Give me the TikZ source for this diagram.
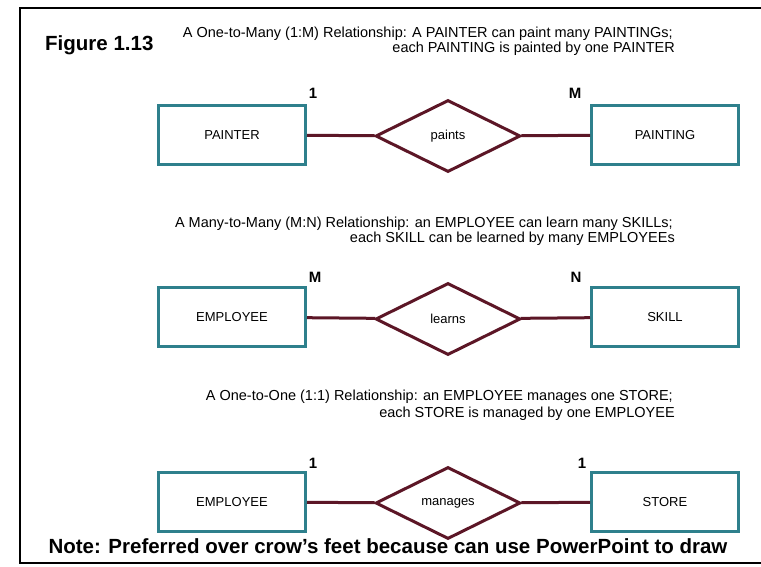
\documentclass[tikz,border=0pt]{standalone}
\usepackage{fontspec}
\setmainfont{Liberation Sans}
\usetikzlibrary{shapes.geometric}
\definecolor{entteal}{RGB}{46,128,140}
\definecolor{relmaroon}{RGB}{92,22,38}

\begin{document}
\begin{tikzpicture}[x=1pt,y=-1pt,
  entity/.style={draw=entteal, line width=3pt, minimum width=147pt, minimum height=59pt,
    inner sep=0pt, font=\fontsize{13}{15}\selectfont},
  relation/.style={diamond, draw=relmaroon, line width=3pt, minimum width=145pt,
    minimum height=72pt, inner sep=0pt, font=\fontsize{13}{15}\selectfont},
  link/.style={draw=relmaroon, line width=3pt},
  card/.style={inner sep=0pt, font=\fontsize{15}{17}\selectfont\bfseries},
  captext/.style={anchor=base east, inner sep=0pt, font=\fontsize{14.5}{17}\selectfont},
  heading/.style={inner sep=0pt, font=\fontsize{20.5}{24}\selectfont\bfseries}]

\useasboundingbox (0,0) rectangle (761,566);
\fill[white] (0,0) rectangle (761,566);
% open frame, running off the right edge
\draw[line width=2.5pt] (768,8) -- (20,8) -- (20,563) -- (768,563);

\node[heading, anchor=west] (fig) at (45,45) {Figure 1.13};

% one-to-many
\node[captext] (c1a) at (673,37) {A One-to-Many (1:M) Relationship: A PAINTER can paint many PAINTINGs;};
\node[captext] (c1b) at (675,52) {each PAINTING is painted by one PAINTER};
\node[entity] (painter) at (232,135) {PAINTER};
\node[relation] (paints) at (448,136) {paints};
\node[entity] (painting) at (665,135) {PAINTING};
\draw[link] (painter) -- (paints);
\draw[link] (paints) -- (painting);
\node[card] (k1a) at (313,93) {1};
\node[card] (k1b) at (575,93) {M};

% many-to-many
\node[captext] (c2a) at (673,227) {A Many-to-Many (M:N) Relationship: an EMPLOYEE can learn many SKILLs;};
\node[captext] (c2b) at (675,242) {each SKILL can be learned by many EMPLOYEEs};
\node[entity] (emp2) at (232,317) {EMPLOYEE};
\node[relation] (learns) at (448,319) {learns};
\node[entity] (skill) at (665,317) {SKILL};
\draw[link] (emp2) -- (learns);
\draw[link] (learns) -- (skill);
\node[card] (k2a) at (315,277) {M};
\node[card] (k2b) at (576,277) {N};

% one-to-one
\node[captext] (c3a) at (673,400) {A One-to-One (1:1) Relationship: an EMPLOYEE manages one STORE;};
\node[captext] (c3b) at (675,417) {each STORE is managed by one EMPLOYEE};
\node[entity] (emp3) at (232,502) {EMPLOYEE};
\node[relation] (manages) at (448,503) {manages};
\node[entity] (store) at (665,502) {STORE};
\draw[link] (emp3) -- (manages);
\draw[link] (manages) -- (store);
\node[card] (k3a) at (313,463) {1};
\node[card] (k3b) at (582,463) {1};

\node[heading] (note) at (388,546) {Note: Preferred over crow's feet because can use PowerPoint to draw};
\end{tikzpicture}
\end{document}
